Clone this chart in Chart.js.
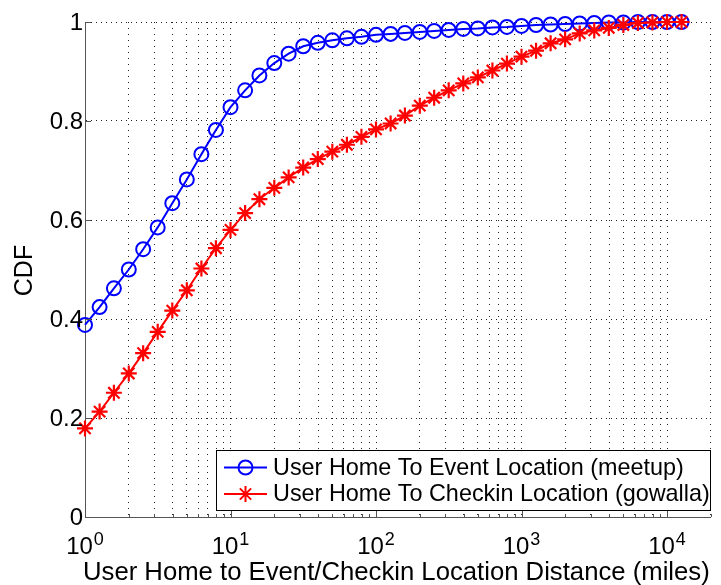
<!DOCTYPE html>
<html>
<head>
<meta charset="utf-8">
<title>CDF of home distance</title>
<script src="https://cdn.jsdelivr.net/npm/chart.js@4/dist/chart.umd.min.js"></script>
<style>
  html, body { margin: 0; padding: 0; background: #fff; }
  #wrap { width: 721px; height: 585px; }
</style>
</head>
<body>
<div id="wrap"><canvas id="cdfChart" width="721" height="585"></canvas></div>
<script>
// distance sample points (miles), log spaced as in the figure
const distanceMiles = [1, 1.26, 1.58, 2, 2.51, 3.16, 3.98, 5.01, 6.31, 7.94,
  10, 12.6, 15.8, 20, 25.1, 31.6, 39.8, 50.1, 63.1, 79.4,
  100, 126, 158, 200, 251, 316, 398, 501, 631, 794,
  1000, 1259, 1585, 1995, 2512, 3162, 3981, 5012, 6310, 7943,
  10000, 12589];

// CDF values
const meetupCdf = [0.388, 0.424, 0.462, 0.500, 0.541, 0.585, 0.634, 0.682, 0.733, 0.782,
  0.828, 0.862, 0.892, 0.917, 0.936, 0.951, 0.958, 0.963, 0.967, 0.970,
  0.974, 0.976, 0.978, 0.980, 0.982, 0.984, 0.986, 0.987, 0.989, 0.990,
  0.992, 0.994, 0.995, 0.996, 0.997, 0.998, 0.999, 0.999, 1.0, 1.0,
  1.0, 1.0];
const gowallaCdf = [0.179, 0.213, 0.251, 0.290, 0.331, 0.374, 0.417, 0.458, 0.502, 0.543,
  0.580, 0.614, 0.642, 0.665, 0.686, 0.706, 0.723, 0.738, 0.752, 0.768,
  0.783, 0.795, 0.811, 0.831, 0.847, 0.862, 0.876, 0.888, 0.902, 0.916,
  0.930, 0.942, 0.957, 0.965, 0.977, 0.983, 0.988, 0.994, 0.998, 0.999,
  1.0, 1.0];

const seriesLabels = ['User Home To Event Location (meetup)', 'User Home To Checkin Location (gowalla)'];
const yTicks = [0, 0.2, 0.4, 0.6, 0.8, 1];
const xDecades = [1, 10, 100, 1000, 10000];
const xExponents = ['0', '1', '2', '3', '4'];
const xMin = 1;
const xMax = 20000;
const xTitle = 'User Home to Event/Checkin Location Distance (miles)';
const yTitle = 'CDF';

// every 1..9 x decade gets a dotted grid line (matlab style)
const xGridValues = [];
xDecades.forEach(d => {
  for (let m = 1; m <= 9; m++) if (m * d <= xMax) xGridValues.push(m * d);
});

const FONT = '"Liberation Sans", Arial, Helvetica, sans-serif';
const AXIS_COLOR = '#555';

const matlabDecor = {
  id: 'matlabDecor',
  afterDraw(chart) {
    const { ctx, chartArea: a, scales: { x, y } } = chart;
    ctx.save();

    // inward tick marks
    ctx.strokeStyle = AXIS_COLOR;
    ctx.lineWidth = 1;
    ctx.beginPath();
    xGridValues.forEach(v => {
      const px = Math.round(x.getPixelForValue(v)) + 0.5;
      const len = xDecades.includes(v) ? 6 : 3;
      ctx.moveTo(px, a.bottom);
      ctx.lineTo(px, a.bottom - len);
    });
    yTicks.forEach(v => {
      const py = Math.round(y.getPixelForValue(v)) + 0.5;
      ctx.moveTo(a.left, py);
      ctx.lineTo(a.left + 6, py);
    });
    ctx.stroke();

    // y tick labels
    ctx.fillStyle = '#000';
    ctx.font = '24px ' + FONT;
    ctx.textAlign = 'right';
    ctx.textBaseline = 'middle';
    yTicks.forEach(v => ctx.fillText(String(v), a.left - 2, y.getPixelForValue(v) + 1));

    // x tick labels: 10 with superscript exponent
    ctx.textAlign = 'left';
    ctx.textBaseline = 'alphabetic';
    xDecades.forEach((v, i) => {
      const px = x.getPixelForValue(v);
      ctx.font = '24px ' + FONT;
      const wBase = ctx.measureText('10').width;
      ctx.font = '18px ' + FONT;
      const wExp = ctx.measureText(xExponents[i]).width;
      const left = px - (wBase + 1 + wExp) / 2;
      ctx.font = '24px ' + FONT;
      ctx.fillText('10', left, a.bottom + 37);
      ctx.font = '18px ' + FONT;
      ctx.fillText(xExponents[i], left + wBase + 1, a.bottom + 28);
    });

    // axis titles
    ctx.font = '25.7px ' + FONT;
    ctx.textAlign = 'left';
    ctx.fillText(xTitle, 83, 580);
    ctx.save();
    ctx.translate(32, (a.top + a.bottom) / 2 + 1);
    ctx.rotate(-Math.PI / 2);
    ctx.textAlign = 'center';
    ctx.font = '25px ' + FONT;
    ctx.fillText(yTitle, 0, 0);
    ctx.restore();

    // legend box (south east, inside axes)
    const box = { left: 216.5, top: 450.5, right: 710.5, bottom: 510.5 };
    ctx.fillStyle = '#fff';
    ctx.fillRect(box.left, box.top, box.right - box.left, box.bottom - box.top);
    ctx.strokeStyle = '#000';
    ctx.lineWidth = 1;
    ctx.strokeRect(box.left, box.top, box.right - box.left, box.bottom - box.top);

    const rows = [467.5, 494];
    chart.data.datasets.forEach((ds, i) => {
      const ry = rows[i];
      ctx.strokeStyle = ds.borderColor;
      ctx.lineWidth = 2;
      ctx.beginPath();
      ctx.moveTo(224, ry);
      ctx.lineTo(267, ry);
      ctx.stroke();
      ctx.fillStyle = 'rgba(0,0,0,0)';
      Chart.helpers.drawPoint(ctx, {
        pointStyle: ds.pointStyle, radius: ds.pointRadius, borderWidth: ds.pointBorderWidth, rotation: 0
      }, 245.5, ry);
      ctx.fillStyle = '#000';
      ctx.font = '23.4px ' + FONT;
      ctx.textAlign = 'left';
      ctx.textBaseline = 'middle';
      ctx.fillText(ds.label, 273, ry + 1);
    });

    ctx.restore();
  }
};

const toPoints = (ys) => distanceMiles.map((d, i) => ({ x: d, y: ys[i] }));

new Chart(document.getElementById('cdfChart'), {
  type: 'line',
  data: {
    datasets: [
      {
        label: seriesLabels[0],
        data: toPoints(meetupCdf),
        borderColor: '#0000ff',
        backgroundColor: 'rgba(0,0,0,0)',
        borderWidth: 2,
        pointStyle: 'circle',
        pointRadius: 7,
        pointBorderWidth: 2,
        pointBorderColor: '#0000ff',
        pointBackgroundColor: 'rgba(0,0,0,0)',
        tension: 0,
        clip: false,
        order: 1
      },
      {
        label: seriesLabels[1],
        data: toPoints(gowallaCdf),
        borderColor: '#ff0000',
        backgroundColor: 'rgba(0,0,0,0)',
        borderWidth: 2,
        pointStyle: 'star',
        pointRadius: 8,
        pointBorderWidth: 2.2,
        pointBorderColor: '#ff0000',
        pointBackgroundColor: 'rgba(0,0,0,0)',
        tension: 0,
        clip: false,
        order: 0
      }
    ]
  },
  options: {
    responsive: false,
    animation: false,
    devicePixelRatio: 1,
    layout: { padding: { left: 85, right: 4, top: 22, bottom: 68 } },
    plugins: { legend: { display: false }, tooltip: { enabled: false } },
    scales: {
      x: {
        type: 'logarithmic',
        min: xMin,
        max: xMax,
        afterBuildTicks: (scale) => { scale.ticks = xGridValues.map(v => ({ value: v })); },
        ticks: { display: false },
        grid: { color: '#222', lineWidth: 1, drawTicks: false },
        border: { display: true, color: AXIS_COLOR, width: 1, dash: [1, 5] }
      },
      y: {
        min: 0,
        max: 1,
        afterBuildTicks: (scale) => { scale.ticks = yTicks.map(v => ({ value: v })); },
        ticks: { display: false },
        grid: { color: '#222', lineWidth: 1, drawTicks: false },
        border: { display: true, color: AXIS_COLOR, width: 1, dash: [1, 4] }
      }
    }
  },
  plugins: [matlabDecor]
});
</script>
</body>
</html>
